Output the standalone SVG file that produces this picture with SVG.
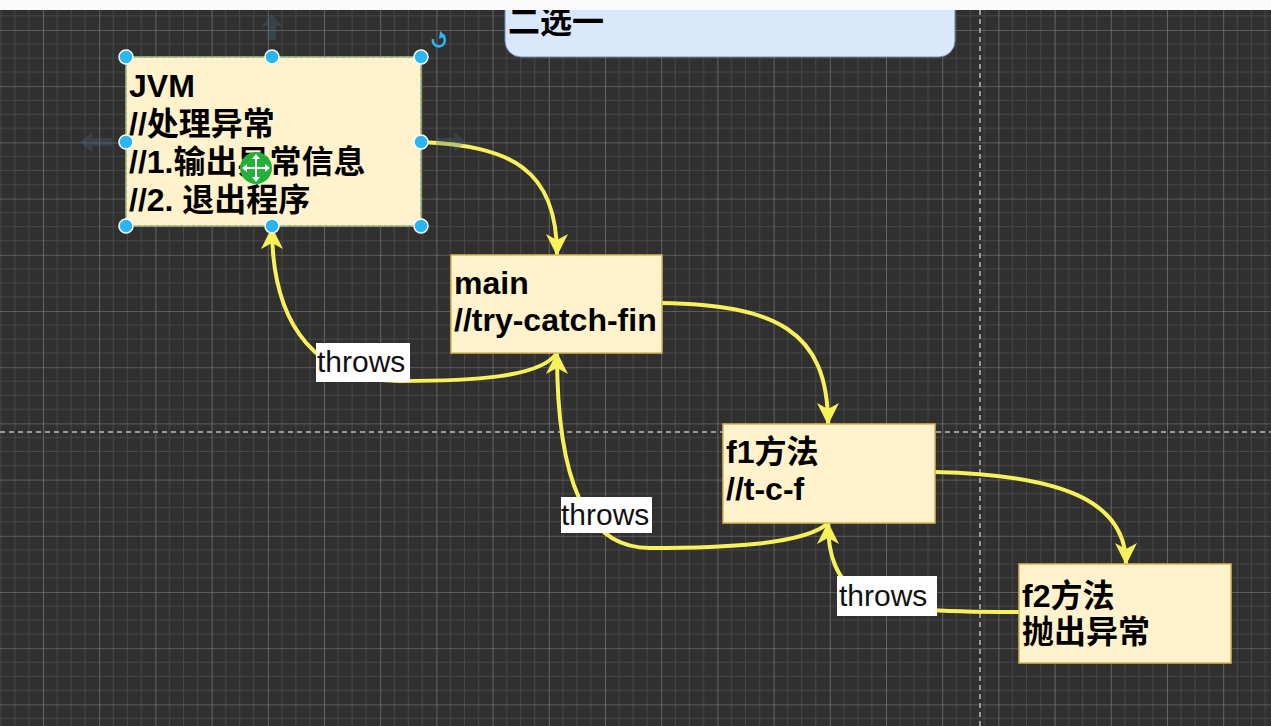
<svg xmlns="http://www.w3.org/2000/svg" width="1271" height="726" viewBox="0 0 1271 726">
<style>
.node{fill:#fff2cc;stroke:#d6b656;stroke-width:1.5}
.nt{font-family:"Liberation Sans","Noto Sans CJK SC",sans-serif;font-size:32px;font-weight:bold;fill:#000}
.lbl{font-family:"Liberation Sans","Noto Sans CJK SC",sans-serif;font-size:30px;fill:#111}
.lblbg{fill:#ffffff}
.edge{fill:none;stroke:#f7f15c;stroke-width:4}
.handle{fill:#29b6f2;stroke:#ffffff;stroke-width:1.5}
</style>
<defs>
<pattern id="grid" x="43" y="30" width="56.2" height="56.2" patternUnits="userSpaceOnUse">
<rect width="56.2" height="56.2" fill="#303030"/>
<path d="M14.05 0V56.2M28.1 0V56.2M42.15 0V56.2M0 14.05H56.2M0 28.1H56.2M0 42.15H56.2" stroke="#484848" stroke-width="1"/>
<path d="M0 0V56.2M0 0H56.2" stroke="#858585" stroke-width="1.2"/>
</pattern>
<marker id="arr" viewBox="0 0 22 24" refX="21" refY="12" markerWidth="22" markerHeight="24" markerUnits="userSpaceOnUse" orient="auto">
<path d="M0 1 L22 12 L0 23 L6 12 Z" fill="#f7f15c"/>
</marker>
</defs>
<rect x="0" y="0" width="1271" height="726" fill="url(#grid)"/>
<path d="M980 10V726" stroke="#9a9a9a" stroke-width="2" stroke-dasharray="5 4"/>
<path d="M0 432H1271" stroke="#9a9a9a" stroke-width="2" stroke-dasharray="5 4"/>

<g id="node-choose">
<rect x="505" y="-20" width="450" height="77" rx="16" fill="#dae8fc" stroke="#6c8ebf" stroke-width="1"/>
<text class="nt" x="508" y="33">二选一</text>
</g>

<g id="connectors">
<path class="edge" d="M421 142 C510 146 557 168 557 255" marker-end="url(#arr)"/>
<path class="edge" d="M662 303 C775 305 828 330 828 424" marker-end="url(#arr)"/>
<path class="edge" d="M935 472 C1060 475 1126 500 1126 564" marker-end="url(#arr)"/>
<path class="edge" d="M557 353 C540 378 470 381 400 381 C320 381 272 330 272 228" marker-end="url(#arr)"/>
<path class="edge" d="M828 523 C805 545 720 548 650 548 C585 548 557 480 557 353" marker-end="url(#arr)"/>
<path class="edge" d="M1019 612 C950 612 885 612 855 592 C838 578 828 558 828 523" marker-end="url(#arr)"/>
<g id="label-throws-1">
<rect class="lblbg" x="316" y="343" width="94" height="39"/>
<text class="lbl" x="317" y="372">throws</text>
</g>
<g id="label-throws-2">
<rect class="lblbg" x="561" y="497" width="91" height="36"/>
<text class="lbl" x="561" y="525">throws</text>
</g>
<g id="label-throws-3">
<rect class="lblbg" x="837" y="576" width="100" height="40"/>
<text class="lbl" x="839" y="606">throws</text>
</g>
</g>

<g id="node-jvm">
<rect class="node" x="126" y="57" width="295" height="169"/>
<rect x="126" y="57" width="295" height="169" fill="none" stroke="#29b6f2" stroke-width="1" stroke-dasharray="3 3"/>
<text class="nt" x="129" y="97">JVM</text>
<text class="nt" x="129" y="135">//处理异常</text>
<text class="nt" x="129" y="173">//1.输出异常信息</text>
<text class="nt" x="129" y="211">//2. 退出程序</text>
</g>

<g id="node-main">
<rect class="node" x="451" y="255" width="211" height="98"/>
<text class="nt" x="454" y="294">main</text>
<text class="nt" x="454" y="331">//try-catch-fin</text>
</g>

<g id="node-f1">
<rect class="node" x="723" y="424" width="212" height="99"/>
<text class="nt" x="726" y="463">f1方法</text>
<text class="nt" x="726" y="500">//t-c-f</text>
</g>

<g id="node-f2">
<rect class="node" x="1019" y="564" width="212" height="99"/>
<text class="nt" x="1022" y="607">f2方法</text>
<text class="nt" x="1022" y="643">抛出异常</text>
</g>

<g id="selection">
<g fill="#4a6c85" opacity="0.3">
<path d="M272 14 L282 26 L276 26 L276 40 L268 40 L268 26 L262 26 Z"/>
<path d="M80 142 L92 132 L92 138 L112 138 L112 146 L92 146 L92 152 Z"/>
<path d="M466 142 L454 132 L454 138 L436 138 L436 146 L454 146 L454 152 Z"/>
</g>
<circle class="handle" cx="126" cy="57" r="7"/>
<circle class="handle" cx="272" cy="57" r="7"/>
<circle class="handle" cx="421" cy="57" r="7"/>
<circle class="handle" cx="126" cy="142" r="7"/>
<circle class="handle" cx="421" cy="142" r="7"/>
<circle class="handle" cx="126" cy="226" r="7"/>
<circle class="handle" cx="272" cy="226" r="7"/>
<circle class="handle" cx="421" cy="226" r="7"/>
<path d="M443 36 A6 6 0 1 1 433 39" fill="none" stroke="#29b6f2" stroke-width="2.5"/>
<path d="M440 31 L446 36 L439 39 Z" fill="#29b6f2"/>
<circle cx="256" cy="168" r="16" fill="#22b03a"/>
<path d="M256 156V180M244 168H268" stroke="#ffffff" stroke-width="2"/>
<path d="M256 154 L252 159 L260 159 Z M256 182 L252 177 L260 177 Z M242 168 L247 164 L247 172 Z M270 168 L265 164 L265 172 Z" fill="#ffffff"/>
</g>

<rect x="0" y="0" width="1271" height="10" fill="#fafafa"/>
</svg>
